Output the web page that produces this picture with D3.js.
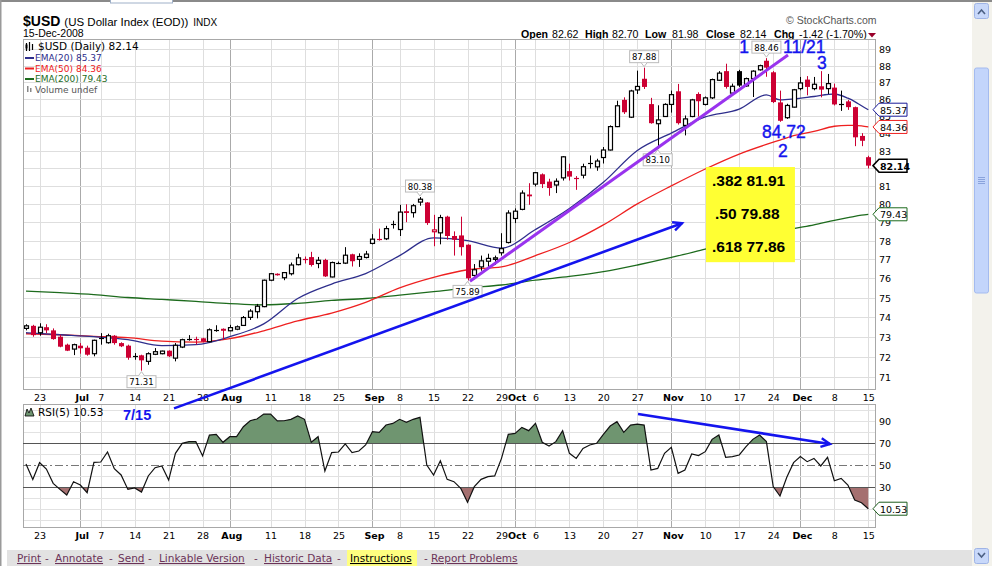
<!DOCTYPE html>
<html><head><meta charset="utf-8">
<script src="https://cdn.jsdelivr.net/npm/d3@7/dist/d3.min.js"></script>
<style>
html,body{margin:0;padding:0;background:#fff;overflow:hidden}
svg{display:block}
</style></head><body>
<svg id="c" width="992" height="566"></svg>
<script>
// ---------------- DATA ----------------
const dates = [
"2008-06-19","2008-06-20","2008-06-23","2008-06-24","2008-06-25","2008-06-26","2008-06-27","2008-06-30",
"2008-07-01","2008-07-02","2008-07-03","2008-07-07","2008-07-08","2008-07-09","2008-07-10","2008-07-11",
"2008-07-14","2008-07-15","2008-07-16","2008-07-17","2008-07-18","2008-07-21","2008-07-22","2008-07-23",
"2008-07-24","2008-07-25","2008-07-28","2008-07-29","2008-07-30","2008-07-31",
"2008-08-01","2008-08-04","2008-08-05","2008-08-06","2008-08-07","2008-08-08","2008-08-11","2008-08-12",
"2008-08-13","2008-08-14","2008-08-15","2008-08-18","2008-08-19","2008-08-20","2008-08-21","2008-08-22",
"2008-08-25","2008-08-26","2008-08-27","2008-08-28","2008-08-29",
"2008-09-02","2008-09-03","2008-09-04","2008-09-05","2008-09-08","2008-09-09","2008-09-10","2008-09-11",
"2008-09-12","2008-09-15","2008-09-16","2008-09-17","2008-09-18","2008-09-19","2008-09-22","2008-09-23",
"2008-09-24","2008-09-25","2008-09-26","2008-09-29","2008-09-30",
"2008-10-01","2008-10-02","2008-10-03","2008-10-06","2008-10-07","2008-10-08","2008-10-09","2008-10-10",
"2008-10-13","2008-10-14","2008-10-15","2008-10-16","2008-10-17","2008-10-20","2008-10-21","2008-10-22",
"2008-10-23","2008-10-24","2008-10-27","2008-10-28","2008-10-29","2008-10-30","2008-10-31",
"2008-11-03","2008-11-04","2008-11-05","2008-11-06","2008-11-07","2008-11-10","2008-11-11","2008-11-12",
"2008-11-13","2008-11-14","2008-11-17","2008-11-18","2008-11-19","2008-11-20","2008-11-21","2008-11-24",
"2008-11-25","2008-11-26","2008-11-28",
"2008-12-01","2008-12-02","2008-12-03","2008-12-04","2008-12-05","2008-12-08","2008-12-09","2008-12-10",
"2008-12-11","2008-12-12","2008-12-15"];

const open = [73.42,73.55,73.20,73.48,73.32,73.00,72.60,72.38,72.55,72.45,
72.15,72.90,72.70,73.05,72.68,72.55,72.03,72.07,71.77,72.12,
72.15,72.30,71.93,72.48,72.87,72.92,72.92,72.75,73.33,73.40,
73.30,73.38,73.57,73.98,74.27,74.53,75.90,76.24,76.03,76.24,
76.72,77.05,77.12,76.78,76.97,76.07,76.80,76.80,77.27,77.00,
77.10,77.85,78.12,78.10,78.85,78.60,79.60,79.52,80.10,80.08,
78.48,78.42,79.30,78.25,78.28,77.78,76.15,76.60,76.90,77.00,
77.35,77.90,79.20,79.70,80.52,81.10,81.65,81.24,81.05,81.45,
81.83,81.48,81.60,82.28,82.07,82.60,83.03,84.38,85.95,84.93,
86.54,87.21,85.70,84.55,84.97,85.68,86.46,84.45,84.97,86.30,
85.68,86.07,87.12,87.67,86.35,87.67,86.78,87.22,87.75,88.30,
87.60,85.80,84.90,85.52,86.62,87.16,86.62,86.76,86.62,86.68,
85.72,85.86,85.52,83.84,82.62];
const high = [73.63,73.60,73.68,73.63,73.42,73.10,72.65,72.65,72.68,72.55,
72.85,73.18,73.15,73.08,72.72,72.60,72.18,72.10,72.22,72.43,
72.30,72.32,72.68,72.90,73.08,73.00,72.95,73.42,73.58,73.42,
73.60,73.57,74.05,74.40,74.67,75.93,76.28,76.26,76.33,76.83,
77.30,77.15,77.40,77.13,77.03,76.88,76.88,77.65,77.30,77.32,
77.45,78.35,78.65,78.80,79.08,79.95,79.98,80.00,80.38,80.10,
79.40,79.40,79.35,78.50,79.30,77.80,76.75,77.20,77.30,77.20,
78.40,79.65,79.75,80.75,81.15,81.78,81.70,81.40,81.42,82.68,
82.25,81.55,82.25,82.72,82.53,83.20,84.45,85.90,86.10,86.55,
87.70,87.88,86.07,85.63,85.75,86.50,86.90,85.03,86.01,86.40,
86.15,87.22,87.67,88.12,86.92,87.75,87.28,87.72,88.06,88.46,
87.67,86.50,85.72,86.60,87.32,87.37,87.32,87.67,87.50,86.92,
86.50,85.95,85.55,84.00,82.70];
const low = [73.32,73.00,73.05,73.18,72.85,72.47,72.28,72.08,72.15,72.05,
72.02,72.60,72.65,72.60,72.48,71.85,71.85,71.31,71.60,72.08,
72.12,71.98,71.77,72.43,72.80,72.60,72.72,72.72,73.25,72.85,
73.28,73.33,73.55,73.85,73.93,74.50,75.85,76.14,75.90,76.15,
76.68,76.78,76.62,76.53,76.07,76.05,76.75,76.75,76.62,76.60,
77.05,77.80,78.00,78.03,78.65,78.25,79.00,79.25,79.90,78.85,
77.70,77.80,78.05,77.20,77.20,75.89,75.95,76.40,76.50,76.70,
77.20,77.85,78.95,79.65,79.95,80.97,80.88,80.45,80.60,81.30,
81.30,80.78,81.42,81.98,81.85,82.26,83.00,84.35,85.12,84.88,
86.30,86.60,84.55,83.10,84.95,85.20,84.50,83.87,84.93,84.97,
85.62,86.00,87.08,86.62,86.30,86.72,86.72,86.12,87.70,87.33,
85.76,84.66,84.83,85.50,86.52,86.22,86.52,86.10,86.30,85.62,
85.30,85.36,83.25,83.25,81.98];
const close = [73.55,73.08,73.48,73.32,72.88,72.50,72.30,72.60,72.42,72.10,
72.82,72.95,73.05,72.68,72.52,71.95,72.05,71.82,72.15,72.25,
72.28,72.02,72.57,72.85,72.90,72.85,72.75,73.35,73.36,73.30,
73.46,73.50,73.97,74.30,74.55,75.90,76.24,76.16,76.30,76.70,
77.08,77.02,76.70,76.95,76.10,76.83,76.85,77.22,76.90,77.15,
77.28,78.08,78.06,78.65,78.90,79.55,79.50,79.90,80.26,78.95,
78.58,79.25,78.25,78.05,77.65,76.00,76.45,76.92,77.05,77.08,
77.57,79.50,79.60,80.60,80.42,81.74,81.10,80.88,81.26,82.64,
81.52,81.44,82.08,82.32,82.40,83.03,84.38,85.60,85.22,86.48,
86.75,86.72,84.58,84.77,85.68,86.26,84.58,84.83,85.95,85.87,
86.07,87.16,87.55,86.72,86.76,86.80,87.22,87.67,88.00,87.88,
85.82,84.72,85.62,86.55,86.96,86.72,86.88,86.56,86.92,85.68,
85.75,85.52,83.76,83.56,82.14];

// moving averages at sample days (trading-day index)
const maIdx  = [0,5,10,15,20,25,30,35,40,45,50,55,60,65,70,75,80,85,90,95,100,105,109,111,113,116,119,121,122,123,124];
const ema20  = [73.2,73.1,73.0,72.85,72.55,72.6,73.0,73.65,74.95,75.7,76.25,77.2,78.15,78.0,77.6,78.6,79.75,81.2,83.0,84.0,84.95,85.4,86.25,85.95,86.0,86.15,86.3,86.05,85.85,85.6,85.37];
const ema50  = [73.15,73.1,73.02,72.95,72.78,72.73,72.9,73.3,73.8,74.2,74.75,75.5,76.05,76.45,76.6,77.2,77.9,78.85,80.0,81.0,81.95,82.8,83.35,83.6,83.85,84.1,84.4,84.45,84.45,84.42,84.36];
const ema200 = [75.33,75.25,75.15,75.0,74.9,74.8,74.68,74.62,74.7,74.85,74.95,75.12,75.3,75.5,75.65,75.9,76.1,76.35,76.7,77.1,77.55,78.0,78.3,78.5,78.65,78.85,79.1,79.25,79.32,79.38,79.43];

const rsi = [51.2,37.2,52.4,46.6,33.6,28.1,23,35.1,32.1,25.1,
52.7,53,62.1,46.9,41.2,28.1,29.4,25.7,40.3,47.8,
49.4,36.6,60.9,70,71.5,71.5,58.5,77.5,78.1,70.9,
76,76,85.1,90.5,92.1,96.6,96.6,90.3,90.5,91.8,
94.8,91.8,70.9,76,44.8,61.5,62.1,69.4,61.5,63,
68.5,80.6,80,86.6,88.1,91.8,89,91.8,93.6,50.3,
41.2,54.2,37.2,35.1,29.1,16.3,30.6,37.2,39.7,40.3,
56.3,78.1,79,84.5,81.5,88.1,70.9,67.5,71.5,81.5,
60.9,56.3,65.4,68.5,70,78.1,85.7,89.7,80,86.6,
87.5,86.6,45.7,47.2,60.9,66.3,42.7,45.7,60.3,58.8,
62.4,73.6,77.5,57.3,57.9,59.4,66.9,73.6,77.5,71.5,
30.6,22.1,39.1,52.4,57.9,53.3,56.3,49.4,57.3,36,
38.1,32.1,18.5,16,10.53];

const priceTicks = [71,72,73,74,75,76,77,78,79,80,81,82,83,84,85,86,87,88,89];
const rsiTicks = [30,50,70,90];
const tickDates = ["2008-06-23","2008-07-01","2008-07-07","2008-07-14","2008-07-21","2008-07-28","2008-08-01",
"2008-08-11","2008-08-18","2008-08-25","2008-09-02","2008-09-08","2008-09-15","2008-09-22","2008-09-29",
"2008-10-01","2008-10-06","2008-10-13","2008-10-20","2008-10-27","2008-11-03","2008-11-10","2008-11-17",
"2008-11-24","2008-12-01","2008-12-08","2008-12-15"];
const tickTexts = ["23","Jul","7","14","21","28","Aug","11","18","25","Sep","8","15","22","29","Oct","6","13","20","27","Nov","10","17","24","Dec","8","15"];

// ---------------- LAYOUT ----------------
const svg = d3.select("#c");
const PL=23, PR=875, PT=39, PB=389, RT=404, RB=527;
const RED="#cc0033", NAVY="#2e2e8c", EMARED="#ee2020", GREEN="#1d6b1d";
const xi = d3.scaleLinear().domain([0, dates.length-1]).range([26, 868.3]);
const xd = d => xi(dates.indexOf(d));
const y = d3.scaleLog().domain([71, 89]).range([377, 49.3]);
const yr = d3.scaleLinear().domain([0, 100]).range([520.3, 410.3]);
const FS = "'DejaVu Sans', Verdana, sans-serif";
const FA = "'Liberation Sans', Arial, sans-serif";
const cr = v => Math.round(v) + 0.5;

// window chrome
svg.append("rect").attr("x",0).attr("y",0).attr("width",992).attr("height",566).attr("fill","#fff");
svg.append("rect").attr("x",0).attr("y",0).attr("width",992).attr("height",2).attr("fill","#8a8a8a");
svg.append("rect").attr("x",0).attr("y",0).attr("width",1.5).attr("height",566).attr("fill","#9a9a9a");
svg.append("rect").attr("x",110.5).attr("y",-1).attr("width",62).attr("height",4).attr("fill","#fff").attr("stroke","#9fb0c8");

// headers
const t1 = svg.append("text").attr("x",23).attr("y",25.5).attr("font-family",FA).attr("fill","#000");
t1.append("tspan").attr("font-weight","bold").attr("font-size","14px").text("$USD");
t1.append("tspan").attr("font-size","11.5px").attr("dx",4).text("(US Dollar Index (EOD))");
t1.append("tspan").attr("font-size","10px").attr("dx",5).text("INDX");
svg.append("text").attr("x",23).attr("y",37).attr("font-family",FA).attr("font-size","10.5px").text("15-Dec-2008");
svg.append("text").attr("x",786).attr("y",24).attr("font-family",FA).attr("font-size","10.5px").attr("fill","#555").text("\u00a9 StockCharts.com");
const hdr = [["Open",521,true],["82.62",552,false],["High",585,true],["82.70",612,false],["Low",645,true],["81.98",672,false],
 ["Close",706,true],["82.14",740,false],["Chg",774,true],["-1.42 (-1.70%)",799,false]];
hdr.forEach(h=>svg.append("text").attr("x",h[1]).attr("y",37.5).attr("font-family",FA)
  .attr("font-size","10.6px").attr("font-weight",h[2]?"bold":"normal").text(h[0]));
svg.append("path").attr("d","M868,33 L876,33 L872,37.5 Z").attr("fill","#99002a");

// ---------------- GRID ----------------
const g = svg.append("g");
[ [PT,PB],[RT,RB] ].forEach(([a,b])=>{
  tickDates.forEach((d,k)=>{
    const isM = isNaN(+tickTexts[k]);
    g.append("line").attr("x1",cr(xd(d))).attr("x2",cr(xd(d))).attr("y1",a).attr("y2",b)
     .attr("stroke", isM ? "#aaaaaa" : "#dedede").attr("stroke-width",1);
  });
});
priceTicks.forEach(p=>{
  g.append("line").attr("x1",PL).attr("x2",PR).attr("y1",cr(y(p))).attr("y2",cr(y(p))).attr("stroke","#dedede");
});
d3.range(0,101,10).filter(v=>![30,50,70].includes(v)).forEach(v=>{
  g.append("line").attr("x1",PL).attr("x2",PR).attr("y1",cr(yr(v))).attr("y2",cr(yr(v))).attr("stroke","#e2e2e2");
});

// ---------------- PRICE PANEL ----------------
svg.append("defs").html(`<clipPath id="pc"><rect x="${PL}" y="${PT}" width="${PR-PL}" height="${PB-PT}"/></clipPath>
<clipPath id="up"><rect x="${PL}" y="${RT}" width="${PR-PL}" height="${yr(70)-RT}"/></clipPath>
<clipPath id="dn"><rect x="${PL}" y="${yr(30)}" width="${PR-PL}" height="${RB-yr(30)}"/></clipPath>`);
const pg = svg.append("g").attr("clip-path","url(#pc)");
const maLine = d3.line().x((v,k)=>xi(maIdx[k])).y(v=>y(v)).curve(d3.curveMonotoneX);
pg.append("path").attr("d",maLine(ema200)).attr("fill","none").attr("stroke",GREEN).attr("stroke-width",1.3);
pg.append("path").attr("d",maLine(ema50)).attr("fill","none").attr("stroke",EMARED).attr("stroke-width",1.3);
pg.append("path").attr("d",maLine(ema20)).attr("fill","none").attr("stroke",NAVY).attr("stroke-width",1.3);

// candles
dates.forEach((d,i)=>{
  const col = (i===0 || close[i]>=close[i-1]) ? "#000" : RED;
  const xc = Math.round(xi(i));
  pg.append("line").attr("x1",xc+0.5).attr("x2",xc+0.5).attr("y1",y(high[i])).attr("y2",y(low[i])).attr("stroke",col).attr("stroke-width",1);
  const top = y(Math.max(open[i],close[i])), bot = y(Math.min(open[i],close[i]));
  if (bot-top < 1.5) {
    pg.append("line").attr("x1",xc-2).attr("x2",xc+3).attr("y1",cr((top+bot)/2)).attr("y2",cr((top+bot)/2)).attr("stroke",col).attr("stroke-width",1.2);
  } else if (close[i] >= open[i]) {
    pg.append("rect").attr("x",xc-1.5).attr("y",top).attr("width",4).attr("height",bot-top).attr("fill","#fff").attr("stroke",col).attr("stroke-width",1.2);
  } else {
    pg.append("rect").attr("x",xc-2).attr("y",top).attr("width",5).attr("height",bot-top).attr("fill",col);
  }
});

// panel borders
svg.append("rect").attr("x",PL+0.5).attr("y",PT+0.5).attr("width",PR-PL).attr("height",PB-PT).attr("fill","none").attr("stroke","#a8a8a8");
svg.append("rect").attr("x",PL+0.5).attr("y",RT+0.5).attr("width",PR-PL).attr("height",RB-RT).attr("fill","none").attr("stroke","#a8a8a8");

// high/low labels
function hl(i, val, above) {
  const txt = val.toFixed(2), w = 29, h = 12, xc = xi(i);
  const yv = above ? y(high[i]) : y(low[i]);
  const by = above ? yv - 5 - h : yv + 5;
  svg.append("rect").attr("x",xc-w/2).attr("y",by).attr("width",w).attr("height",h).attr("fill","#fff").attr("stroke","#bbb");
  svg.append("path").attr("d", above ? `M${xc-3},${by+h} L${xc},${by+h+4} L${xc+3},${by+h}` : `M${xc-3},${by} L${xc},${by-4} L${xc+3},${by}`)
     .attr("fill","#fff").attr("stroke","#bbb");
  svg.append("text").attr("x",xc).attr("y",by+9.5).attr("text-anchor","middle").attr("font-family",FS).attr("font-size","8.5px").text(txt);
}
hl(17, low[17], false); hl(58, high[58], true); hl(65, low[65], false);
hl(91, high[91], true); hl(93, low[93], false); hl(109, high[109], true);

// ---------------- RSI PANEL ----------------
const rg = svg.append("g");
const rArea = d3.area().x((v,i)=>xi(i)).y0(v=>yr(70)).y1(v=>yr(v));
const rArea2 = d3.area().x((v,i)=>xi(i)).y0(v=>yr(30)).y1(v=>yr(v));
rg.append("path").attr("d",rArea(rsi)).attr("fill","#6f9570").attr("clip-path","url(#up)");
rg.append("path").attr("d",rArea2(rsi)).attr("fill","#a57070").attr("clip-path","url(#dn)");
[70,30].forEach(v=>rg.append("line").attr("x1",PL).attr("x2",PR).attr("y1",cr(yr(v))).attr("y2",cr(yr(v))).attr("stroke","#555"));
rg.append("line").attr("x1",PL).attr("x2",PR).attr("y1",cr(yr(50))).attr("y2",cr(yr(50))).attr("stroke","#777").attr("stroke-dasharray","8,3,2,3");
rg.append("path").attr("d",d3.line().x((v,i)=>xi(i)).y(v=>yr(v))(rsi)).attr("fill","none").attr("stroke","#111").attr("stroke-width",1.2);

// ---------------- AXES ----------------
priceTicks.forEach(p=>svg.append("text").attr("x",879).attr("y",y(p)+4).attr("font-family",FS).attr("font-size","9.5px").text(p));
rsiTicks.forEach(v=>svg.append("text").attr("x",879).attr("y",yr(v)+4).attr("font-family",FS).attr("font-size","9.5px").text(v));
[401, 539].forEach(yy=>{
  tickDates.forEach((d,k)=>{
    const isM = isNaN(+tickTexts[k]);
    svg.append("text").attr("x",xd(d)+(isM?2:0.5)).attr("y",yy).attr("text-anchor","middle").attr("font-family",FS)
      .attr("font-size","9.5px").attr("font-weight",isM?"bold":"normal").text(tickTexts[k]);
  });
});

// value tags (drawn over the axis labels, as in the original)
function tag(yv, txt, col, bold) {
  svg.append("path").attr("d",`M873,${yv} L879,${yv-6.5} L907,${yv-6.5} L907,${yv+6.5} L879,${yv+6.5} Z`)
    .attr("fill","#fff").attr("stroke",col).attr("stroke-width",bold?1.5:1);
  svg.append("text").attr("x",880).attr("y",yv+4).attr("font-family",FS).attr("font-size","9.5px")
    .attr("font-weight",bold?"bold":"normal").attr("fill","#000").text(txt);
}
tag(y(ema20[ema20.length-1]), ema20[ema20.length-1].toFixed(2), "#1a1a99", false);
tag(y(ema50[ema50.length-1]), ema50[ema50.length-1].toFixed(2), "#ee2020", false);
tag(y(close[close.length-1]), close[close.length-1].toFixed(2), "#000", true);
tag(y(ema200[ema200.length-1]), ema200[ema200.length-1].toFixed(2), "#1d6b1d", false);
tag(yr(rsi[rsi.length-1]), rsi[rsi.length-1].toFixed(2), "#1d5c1d", false);

// ---------------- LEGENDS ----------------
svg.append("path").attr("d","M26.5,43 v8 M29.5,42 v9 M32.5,44 v6").attr("stroke","#000").attr("stroke-width",1.2);
svg.append("rect").attr("x",25.5).attr("y",44.5).attr("width",2).attr("height",4).attr("fill","#000");
svg.append("text").attr("x",38).attr("y",50).attr("font-family",FS).attr("font-size","10.5px").text("$USD (Daily) 82.14");
const leg = [["EMA(20) 85.37",NAVY,61],["EMA(50) 84.36",EMARED,71.5],["EMA(200) 79.43",GREEN,82]];
leg.forEach(l=>{
  svg.append("rect").attr("x",25).attr("y",l[2]-4).attr("width",9).attr("height",2).attr("fill",l[1]);
  svg.append("text").attr("x",35).attr("y",l[2]).attr("font-family",FS).attr("font-size","9px").attr("fill",l[1]).text(l[0]);
});
svg.append("rect").attr("x",27).attr("y",86).attr("width",1.5).attr("height",6).attr("fill","#888");
svg.append("rect").attr("x",30).attr("y",88).attr("width",1.5).attr("height",4).attr("fill","#888");
svg.append("text").attr("x",35).attr("y",92.5).attr("font-family",FS).attr("font-size","9px").attr("fill","#555").text("Volume undef");
svg.append("path").attr("d","M25,416 L27,409 L29,413 L31,408 L34,416 Z").attr("fill","#6e9470").attr("stroke","#000").attr("stroke-width",0.8);
svg.append("text").attr("x",38).attr("y",416).attr("font-family",FS).attr("font-size","10.5px").text("RSI(5) 10.53");

// ---------------- ANNOTATIONS ----------------
const BLUE = "#1414ee";
const trend = [[65.36,75.85],[112.18,88.65]];
svg.append("line").attr("x1",xi(trend[0][0])).attr("y1",y(trend[0][1])).attr("x2",xi(trend[1][0])).attr("y2",y(trend[1][1]))
  .attr("stroke","#9933ee").attr("stroke-width",3);
const arr1 = [[21.79,69.48],[96.58,78.94]];
function arrow(x1,y1,x2,y2){
  svg.append("line").attr("x1",x1).attr("y1",y1).attr("x2",x2).attr("y2",y2).attr("stroke",BLUE).attr("stroke-width",2.6);
  const a = Math.atan2(y2-y1,x2-x1), L=10, s=0.45;
  svg.append("path").attr("d",`M${x2-L*Math.cos(a-s)},${y2-L*Math.sin(a-s)} L${x2},${y2} L${x2-L*Math.cos(a+s)},${y2-L*Math.sin(a+s)}`)
    .attr("fill","none").attr("stroke",BLUE).attr("stroke-width",2.4);
}
arrow(xi(arr1[0][0]),y(arr1[0][1]),xi(arr1[1][0]),y(arr1[1][1]));
const arr2 = [[90.1,96.6],[118.36,69.4]];
arrow(xi(arr2[0][0]),yr(arr2[0][1]),xi(arr2[1][0]),yr(arr2[1][1]));

const fibBox = [[100.1,113.2],[82.06,76.85]];
const fx = xi(fibBox[0][0]), fw = xi(fibBox[0][1]) - fx, fy = y(fibBox[1][0]), fh = y(fibBox[1][1]) - fy;
svg.append("rect").attr("x",fx).attr("y",fy).attr("width",fw).attr("height",fh).attr("fill","#ffff33");
const fibTxt = [".382 81.91",".50 79.88",".618 77.86"];
fibTxt.forEach((t,k)=>svg.append("text").attr("x",fx+6+(k===1?3:0)).attr("y",fy+19+k*33).attr("font-family",FA)
   .attr("font-size","15.5px").attr("font-weight","bold").attr("fill","#000").text(t));

const notes = [["1",105.7,88.77,"middle"],["11/21",111.44,88.77,"start"],["3",117.18,87.80,"middle"],
               ["84.72",108.35,83.71,"start"],["2",111.44,82.62,"middle"]];
notes.forEach(n=>svg.append("text").attr("x",xi(n[1])).attr("y",y(n[2])).attr("text-anchor",n[3])
   .attr("font-family",FA).attr("font-size","17.5px").attr("fill",BLUE).attr("stroke",BLUE).attr("stroke-width",0.4).text(n[0]));
svg.append("text").attr("x",xi(14.28)).attr("y",yr(91.2)).attr("font-family",FA).attr("font-size","14.5px")
   .attr("font-weight","bold").attr("fill",BLUE).text("7/15");

// ---------------- BOTTOM BAR & SCROLLBAR ----------------
svg.append("rect").attr("x",7).attr("y",550).attr("width",965).attr("height",16).attr("fill","#e2e2e2");
svg.append("rect").attr("x",347).attr("y",550).attr("width",70).attr("height",16).attr("fill","#ffff80");
const links = [["Print",17],["Annotate",55],["Send",118],["Linkable Version",159],["Historic Data",264],["Instructions",350],["Report Problems",431]];
const seps = [45,109,148,254,337,424];
links.forEach((l,k)=>svg.append("text").attr("x",l[1]).attr("y",562).attr("font-family",FS).attr("font-size","10.5px")
  .attr("fill", l[0]==="Instructions" ? "#000" : "#6b3358").attr("text-decoration","underline").text(l[0]));
seps.forEach(s=>svg.append("text").attr("x",s).attr("y",562).attr("font-family",FS).attr("font-size","10.5px").attr("fill","#6b3358").text("-"));

svg.append("rect").attr("x",972).attr("y",2).attr("width",20).attr("height",564).attr("fill","#f3f2ec");
svg.append("rect").attr("x",974.5).attr("y",3.5).attr("width",14).attr("height",15).attr("rx",2).attr("fill","#c8d8fa").attr("stroke","#9fb4e6");
svg.append("path").attr("d","M978,14 L981.5,10 L985,14").attr("fill","none").attr("stroke","#4d6185").attr("stroke-width",1.6);
svg.append("rect").attr("x",974.5).attr("y",548.5).attr("width",14).attr("height",15).attr("rx",2).attr("fill","#c8d8fa").attr("stroke","#9fb4e6");
svg.append("path").attr("d","M978,553 L981.5,557 L985,553").attr("fill","none").attr("stroke","#4d6185").attr("stroke-width",1.6);
svg.append("rect").attr("x",974.5).attr("y",68).attr("width",14).attr("height",225).attr("rx",2).attr("fill","#c3d5fb").attr("stroke","#a4bbef");
[0,2,4,6].forEach(k=>svg.append("line").attr("x1",978).attr("x2",985).attr("y1",177.5+k).attr("y2",177.5+k).attr("stroke","#8aa3dc"));
</script>
</body></html>
